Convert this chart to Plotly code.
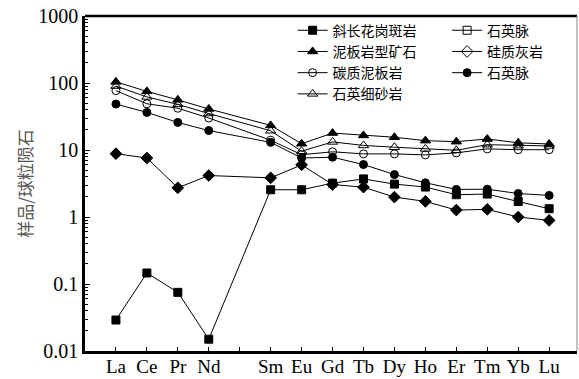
import plotly.graph_objects as go

categories = ["La", "Ce", "Pr", "Nd", "Pm", "Sm", "Eu", "Gd", "Tb", "Dy", "Ho", "Er", "Tm", "Yb", "Lu"]
tick_labels = ["La", "Ce", "Pr", "Nd", "", "Sm", "Eu", "Gd", "Tb", "Dy", "Ho", "Er", "Tm", "Yb", "Lu"]

plagiogranite = [0.029, 0.146, 0.075, 0.015, None, 2.55, 2.55, 3.2, 3.7, 3.1, 2.8, 2.15, 2.2, 1.7, 1.33]
slate_ore = [104, 75, 56, 41, None, 23.3, 12.4, 17.9, 16.5, 15.5, 13.8, 13.3, 14.6, 12.8, 12.3]
carbon_slate = [77, 49, 42, 30, None, 14, 8.5, 9.4, 8.75, 8.75, 8.45, 9.05, 10.4, 10.1, 10.1]
quartz_sandstone = [90, 62, 48, 35, None, 19.4, 9.6, 13.2, 11.7, 11.0, 10.4, 9.9, 12.0, 11.6, 11.5]
quartz_vein_open = [None]
siliceous_limestone = [8.8, 7.6, 2.73, 4.16, None, 3.84, 6.0, 3.05, 2.79, 1.98, 1.71, 1.27, 1.30, 1.0, 0.89]
quartz_vein = [48.5, 36.4, 25.8, 19.5, None, 13, 7.6, 7.8, 6.06, 4.3, 3.24, 2.58, 2.6, 2.24, 2.1]

y_tickvals = [0.01, 0.1, 1, 10, 100, 1000]
y_ticktext = ["0.01", "0.1", "1", "10", "100", "1000"]

fig = go.Figure()
line = dict(color="black", width=1)

def add(name, vals, symbol, size, legend, showlegend=True):
    xs = categories if len(vals) == len(categories) else [None] * len(vals)
    fig.add_trace(go.Scatter(
        x=xs, y=vals, name=name, mode="lines+markers",
        connectgaps=True, line=line,
        marker=dict(symbol=symbol, size=size, color="black",
                    line=dict(color="black", width=1)),
        legend=legend, showlegend=showlegend))

add("斜长花岗斑岩", plagiogranite, "square", 8, "legend")
add("泥板岩型矿石", slate_ore, "triangle-up", 9, "legend")
add("碳质泥板岩", carbon_slate, "circle-open", 8, "legend")
add("石英细砂岩", quartz_sandstone, "triangle-up-open", 9, "legend")
add("石英脉", quartz_vein_open, "square-open", 8, "legend2")
add("硅质灰岩", siliceous_limestone, "diamond", 9, "legend2", showlegend=False)
add("硅质灰岩", [None], "diamond-open", 9, "legend2")
add("石英脉", quartz_vein, "circle", 8, "legend2")

legend_font = dict(family="Noto Sans CJK SC", size=14, color="black")
fig.update_layout(
    width=579, height=379,
    margin=dict(l=85, r=2, t=16, b=28, autoexpand=False),
    paper_bgcolor="white", plot_bgcolor="white",
    font=dict(family="Liberation Serif", color="black"),
    xaxis=dict(
        type="category", categoryorder="array", categoryarray=categories,
        tickmode="array", tickvals=categories, ticktext=tick_labels,
        range=[-1, 14.9], showgrid=False, zeroline=False,
        showline=True, linecolor="black", linewidth=2.5,
        ticks="inside", ticklen=4, tickcolor="black", tickwidth=1,
        ticklabelstandoff=-4,
        tickfont=dict(family="Liberation Serif", size=19, color="black"),
    ),
    yaxis=dict(
        type="log", range=[-2, 3], showgrid=False, zeroline=False,
        showline=True, linecolor="black", linewidth=2.5,
        tickmode="array", tickvals=y_tickvals, ticktext=y_ticktext,
        ticks="inside", ticklen=5, tickcolor="black", tickwidth=1,
        minor=dict(ticks="inside", ticklen=3, tickcolor="black", dtick="D1", showgrid=False),
        tickfont=dict(family="Liberation Serif", size=20, color="black"),
        title=dict(text="样品/球粒陨石", font=dict(family="Noto Sans CJK SC", size=17, color="#555"),
                   standoff=2),
    ),
    legend=dict(x=0.422, y=1.004, xanchor="left", yanchor="top", bgcolor="rgba(0,0,0,0)",
                font=legend_font, itemwidth=30, tracegroupgap=0),
    legend2=dict(x=0.736, y=1.004, xanchor="left", yanchor="top", bgcolor="rgba(0,0,0,0)",
                 font=legend_font, itemwidth=30, tracegroupgap=0),
    shapes=[
        dict(type="line", xref="paper", yref="paper", x0=0, x1=1, y0=1, y1=1,
             line=dict(color="black", width=2.5)),
        dict(type="line", xref="paper", yref="paper", x0=1, x1=1, y0=0, y1=1,
             line=dict(color="#888", width=1)),
    ],
)

fig.write_html("out.html", config={"displayModeBar": False},
               post_script="document.body.style.margin='0';document.body.style.padding='0';")
